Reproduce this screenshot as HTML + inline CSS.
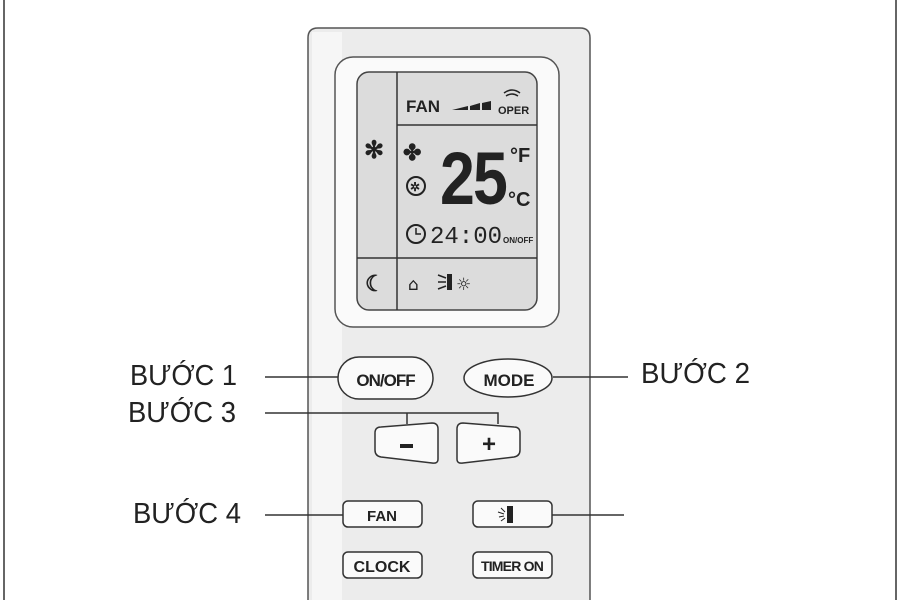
<!DOCTYPE html>
<html><head><meta charset="utf-8"><style>
html,body{margin:0;padding:0;background:#fff;}
svg{display:block;}
.l{font-family:"Liberation Sans",sans-serif;font-size:29px;fill:#222;}
.b{font-family:"Liberation Sans",sans-serif;font-weight:bold;fill:#222;}
</style></head><body>
<svg width="900" height="600" viewBox="0 0 900 600" xmlns="http://www.w3.org/2000/svg">
<rect width="900" height="600" fill="#fff"/>
<line x1="4" y1="0" x2="4" y2="600" stroke="#666" stroke-width="2"/>
<line x1="896" y1="0" x2="896" y2="600" stroke="#666" stroke-width="2"/>
<path d="M308 610 L308 38 Q308 28 318 28 L580 28 Q590 28 590 38 L590 610" fill="#ececec" stroke="#555" stroke-width="1.5"/>
<rect x="312" y="32" width="30" height="570" fill="#f6f6f6"/>
<rect x="335" y="57" width="224" height="270" rx="18" fill="#fafafa" stroke="#555" stroke-width="1.5"/>
<rect x="357" y="72" width="180" height="238" rx="12" fill="#dcdcdc" stroke="#444" stroke-width="1.5"/>
<line x1="397" y1="72" x2="397" y2="310" stroke="#333" stroke-width="1.5"/>
<line x1="397" y1="125" x2="537" y2="125" stroke="#333" stroke-width="1.5"/>
<line x1="357" y1="258" x2="537" y2="258" stroke="#333" stroke-width="1.5"/>
<text x="406" y="112" class="b" font-size="17">FAN</text>
<path d="M452 110 L468 110 L468 106 Z M470 110 L480 110 L480 103 L470 106 Z M482 110 L491 110 L491 101 L482 103Z" fill="#222"/>
<text x="498" y="114" class="b" font-size="11">OPER</text>
<path d="M504 93 Q512 87 520 93 M506 96 Q512 92 518 96" stroke="#222" fill="none" stroke-width="1.5"/>
<text x="364" y="158" class="b" font-size="24">✻</text>
<text x="403" y="160" class="b" font-size="22">✤</text>
<circle cx="416" cy="186" r="9" fill="none" stroke="#222" stroke-width="2"/>
<text x="410" y="191" class="b" font-size="12">✲</text>
<text x="0" y="0" class="b" font-size="66" letter-spacing="-2" transform="translate(440,204) scale(0.95,1.12)">25</text>
<text x="510" y="162" class="b" font-size="20">°F</text>
<text x="508" y="206" class="b" font-size="20">°C</text>
<circle cx="416" cy="234" r="9" fill="none" stroke="#222" stroke-width="2"/>
<path d="M416 228 L416 234 L421 234" stroke="#222" fill="none" stroke-width="1.5"/>
<text x="430" y="243" font-family="Liberation Mono,monospace" font-size="24" fill="#222">24:00</text>
<text x="503" y="243" class="b" font-size="8">ON/OFF</text>
<text x="365" y="291" class="b" font-size="22">☾</text>
<text x="408" y="290" font-family="DejaVu Sans,sans-serif" font-size="17" fill="#222">⌂</text>
<path d="M438 275 L446 278 M438 282 L446 282 M438 289 L446 286" stroke="#222" stroke-width="1.5"/>
<rect x="447" y="274" width="5" height="16" fill="#222"/>
<text x="456" y="290" font-family="DejaVu Sans,sans-serif" font-size="17" fill="#222">☼</text>
<g stroke="#333" stroke-width="1.5" fill="none">
<line x1="265" y1="377" x2="338" y2="377"/>
<line x1="553" y1="377" x2="628" y2="377"/>
<polyline points="265,413 498,413 498,424"/>
<line x1="407" y1="413" x2="407" y2="424"/>
<line x1="265" y1="515" x2="343" y2="515"/>
<line x1="552" y1="515" x2="624" y2="515"/>
</g>
<g stroke="#333" stroke-width="1.5" fill="#fafafa">
<rect x="338" y="357" width="95" height="42" rx="21"/>
<ellipse cx="508" cy="378" rx="44" ry="19"/>
<path d="M375 433 Q375 427 381 427 L432 423 Q438 423 438 429 L438 459 Q438 464 432 463 L381 457 Q375 456 375 450Z"/>
<path d="M457 429 Q457 423 463 423 L514 427 Q520 427 520 433 L520 450 Q520 456 514 457 L463 463 Q457 464 457 459Z"/>
<rect x="343" y="501" width="79" height="26" rx="5"/>
<rect x="473" y="501" width="79" height="26" rx="5"/>
<rect x="343" y="552" width="79" height="26" rx="5"/>
<rect x="473" y="552" width="79" height="26" rx="5"/>
</g>
<text x="385.5" y="386" class="b" font-size="17" text-anchor="middle" letter-spacing="-1">ON/OFF</text>
<text x="509" y="386" class="b" font-size="17" text-anchor="middle">MODE</text>
<rect x="400" y="444" width="13" height="4" fill="#222"/>
<text x="489" y="452" class="b" font-size="24" text-anchor="middle">+</text>
<text x="382" y="521" class="b" font-size="15" text-anchor="middle">FAN</text>
<path d="M498 512 L504 514 M499 517 L504 516 M501 508 L505 512 M501 521 L505 518" stroke="#222" stroke-width="1"/>
<rect x="507" y="506" width="6" height="17" fill="#222"/>
<text x="382" y="572" class="b" font-size="16" text-anchor="middle">CLOCK</text>
<text x="512" y="571" class="b" font-size="14" text-anchor="middle" letter-spacing="-0.8">TIMER ON</text>
<text x="130" y="385" class="l" textLength="107" lengthAdjust="spacingAndGlyphs">BƯỚC 1</text>
<text x="128" y="422" class="l" textLength="108" lengthAdjust="spacingAndGlyphs">BƯỚC 3</text>
<text x="133" y="523" class="l" textLength="108" lengthAdjust="spacingAndGlyphs">BƯỚC 4</text>
<text x="641" y="383" class="l" textLength="109" lengthAdjust="spacingAndGlyphs">BƯỚC 2</text>
</svg>
</body></html>
